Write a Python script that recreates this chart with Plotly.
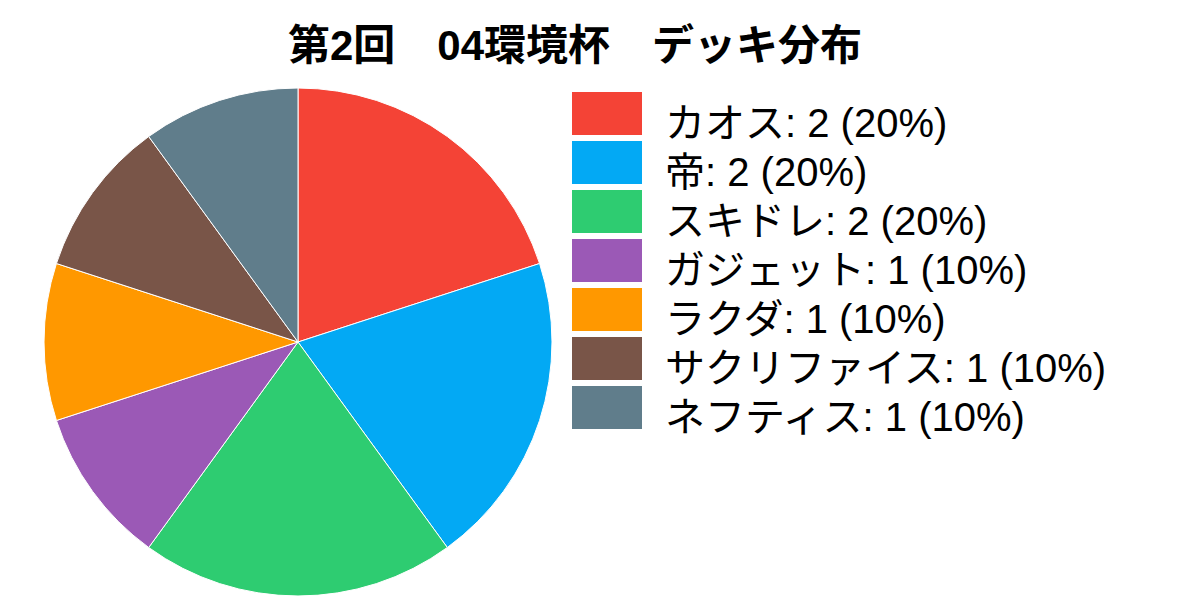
import plotly.graph_objects as go

# deck distribution data
decks = ["カオス", "帝", "スキドレ", "ガジェット", "ラクダ", "サクリファイス", "ネフティス"]
counts = [2, 2, 2, 1, 1, 1, 1]
colors = ["#F44336", "#03A9F4", "#2ECC71", "#9B59B6", "#FF9800", "#795548", "#607D8B"]

W, H = 1200, 600
OFF = 8  # page body margin in the browser
total = sum(counts)
FONT = "Liberation Sans, Noto Sans CJK JP, sans-serif"


def px(x):
    return (x - OFF) / W


def py(y):
    return 1 - (y - OFF) / H


fig = go.Figure(
    go.Pie(
        labels=decks,
        values=counts,
        sort=False,
        direction="clockwise",
        rotation=0,
        marker=dict(colors=colors, line=dict(color="white", width=1)),
        textinfo="none",
        hoverinfo="label+value+percent",
        showlegend=False,
        domain=dict(x=[px(44), px(552)], y=[py(596), py(88)]),
    )
)

# hand-built legend with big colour boxes
box_x0, box_x1 = 572, 642
row_top, row_h, box_h = 92, 49, 43
for i, (name, n, c) in enumerate(zip(decks, counts, colors)):
    y0 = row_top + i * row_h
    fig.add_shape(
        type="rect",
        xref="paper", yref="paper",
        x0=px(box_x0), x1=px(box_x1),
        y0=py(y0), y1=py(y0 + box_h),
        fillcolor=c,
        line=dict(width=0),
    )
    pct = round(n / total * 100)
    fig.add_annotation(
        xref="paper", yref="paper",
        x=px(663), y=py(y0 + 31),
        xanchor="left", yanchor="middle",
        text=f"{name}: {n} ({pct}%)",
        showarrow=False,
        font=dict(size=40, color="black", family=FONT),
    )

fig.update_layout(
    width=W,
    height=H,
    margin=dict(l=0, r=0, t=0, b=0),
    paper_bgcolor="white",
    plot_bgcolor="white",
    title=dict(
        text="<b>第2回　04環境杯　デッキ分布</b>",
        x=px(575),
        xanchor="center",
        y=py(45),
        yanchor="middle",
        font=dict(size=42, color="black", family=FONT),
    ),
)

fig.write_html("out.html")
